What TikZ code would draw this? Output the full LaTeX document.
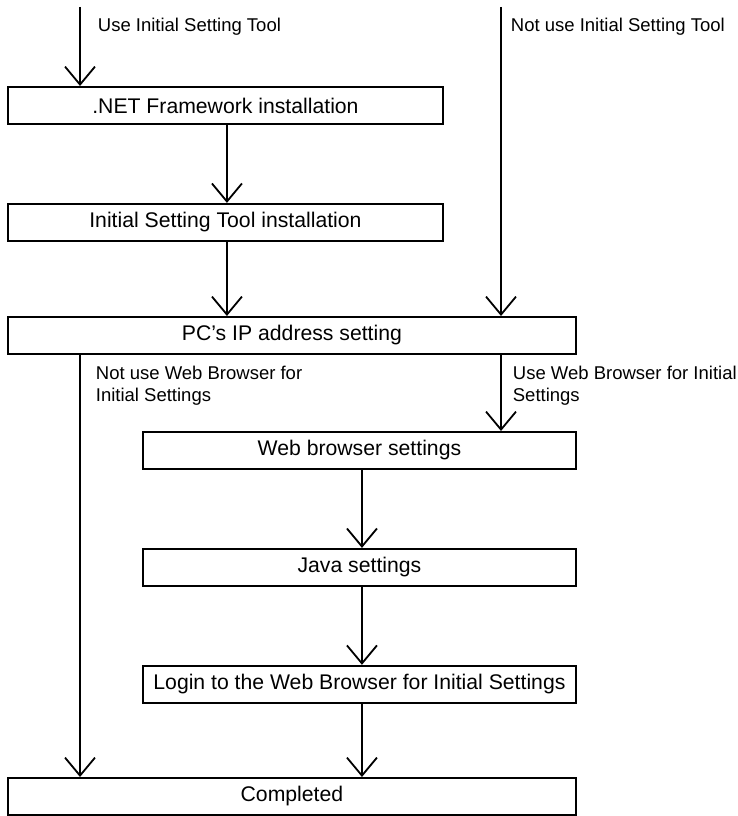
\documentclass[tikz,border=0pt]{standalone}
\usepackage{fontspec}
\setmainfont{Liberation Sans}
\usepackage{tikz}
\usetikzlibrary{arrows.meta,positioning}

\begin{document}
\begin{tikzpicture}[
  x=1pt, y=-1pt,
  box/.style={
    draw,
    line width=1.9pt,
    minimum height=37pt,
    inner sep=0pt,
    font=\fontsize{21.2}{25}\selectfont
  },
  arr/.style={-{Straight Barb[length=18pt,width=30pt]}, line width=1.8pt},
  lbl/.style={anchor=base west, inner sep=0pt, align=left,
    font=\fontsize{18.5}{22}\selectfont},
  node distance=78pt
]
\useasboundingbox (0,0) rectangle (738,816);

\node[box, minimum width=435pt, anchor=north west] (net) at (7,86) {.NET Framework installation};
\node[box, minimum width=435pt, below=of net] (tool) {Initial Setting Tool installation};
\node[box, minimum width=568pt, anchor=north west] (ip) at (7,316) {PC’s IP address setting};
\node[box, minimum width=433pt, anchor=north west] (web) at (142,431) {Web browser settings};
\node[box, minimum width=433pt, below=of web] (java) {Java settings};
\node[box, minimum width=433pt, below=of java] (login) {Login to the Web Browser for Initial Settings};
\node[box, minimum width=568pt, anchor=north west] (done) at (7,777) {Completed};

\coordinate (usetop) at (80,7);
\coordinate (nottop) at (501,7);

\draw[arr] (usetop) -- node[lbl, at start, xshift=17pt, yshift=-25pt] (uselbl) {Use Initial Setting Tool} (usetop |- net.north);
\draw[arr] (nottop) -- node[lbl, at start, xshift=9pt, yshift=-25pt] (notlbl) {Not use Initial Setting Tool} (nottop |- ip.north);
\draw[arr] ([xshift=1.5pt]net.south) -- ([xshift=1.5pt]tool.north);
\draw[arr] ([xshift=1.5pt]tool.south) -- ([xshift=1.5pt]tool.south |- ip.north);
\draw[arr] (usetop |- ip.south) -- node[lbl, at start, xshift=15pt, yshift=-47pt] (nowebl) {Not use Web Browser for\\Initial Settings} (usetop |- done.north);
\draw[arr] (nottop |- ip.south) -- node[lbl, at start, xshift=11pt, yshift=-47pt] (webl) {Use Web Browser for Initial\\Settings} (nottop |- web.north);
\draw[arr] ([xshift=2.5pt]web.south) -- ([xshift=2.5pt]java.north);
\draw[arr] ([xshift=2.5pt]java.south) -- ([xshift=2.5pt]login.north);
\draw[arr] ([xshift=2.5pt]login.south) -- ([xshift=2.5pt]login.south |- done.north);
\end{tikzpicture}
\end{document}
